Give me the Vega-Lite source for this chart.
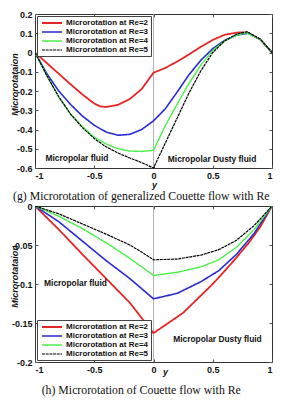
{
  "$schema": "https://vega.github.io/schema/vega-lite/v6.json",
  "background": "white",
  "padding": {"left": 9, "top": 9, "right": 4, "bottom": 4},
  "spacing": -3,
  "config": {
    "view": {"stroke": "#333", "strokeWidth": 1},
    "axis": {"labelFont": "Liberation Sans", "labelFontWeight": "bold", "labelFontSize": 9, "labelColor": "#111", "domain": false, "grid": false, "tickColor": "#555", "tickSize": -3, "labelPadding": 6, "titleFont": "Liberation Sans", "titleFontWeight": "bold", "titleFontStyle": "italic", "titleFontSize": 9, "titleColor": "#111"},
    "legend": {"labelFont": "Liberation Sans", "labelFontWeight": "bold", "labelFontSize": 8, "labelColor": "#111", "symbolType": "M-2.5,0H2.5", "symbolSize": 64, "symbolStrokeWidth": 1.3, "symbolOffset": 8, "labelOffset": 9, "padding": 2, "rowPadding": -1.2, "strokeColor": "#444", "fillColor": "white", "labelLimit": 300, "offset": 2},
    "title": {"font": "Liberation Serif", "fontSize": 11.8, "fontWeight": "normal", "color": "#111", "orient": "bottom", "anchor": "middle", "frame": "bounds"}
  },
  "datasets": {
    "g": [
      {"s": "Microrotation at Re=2", "x": -1, "v": 0}, {"s": "Microrotation at Re=2", "x": -0.9, "v": -0.055}, {"s": "Microrotation at Re=2", "x": -0.8, "v": -0.11}, {"s": "Microrotation at Re=2", "x": -0.7, "v": -0.165}, {"s": "Microrotation at Re=2", "x": -0.6, "v": -0.218}, {"s": "Microrotation at Re=2", "x": -0.5, "v": -0.265}, {"s": "Microrotation at Re=2", "x": -0.45, "v": -0.28}, {"s": "Microrotation at Re=2", "x": -0.4, "v": -0.283}, {"s": "Microrotation at Re=2", "x": -0.3, "v": -0.272}, {"s": "Microrotation at Re=2", "x": -0.2, "v": -0.242}, {"s": "Microrotation at Re=2", "x": -0.1, "v": -0.19}, {"s": "Microrotation at Re=2", "x": 0, "v": -0.105}, {"s": "Microrotation at Re=2", "x": 0.1, "v": -0.08}, {"s": "Microrotation at Re=2", "x": 0.2, "v": -0.047}, {"s": "Microrotation at Re=2", "x": 0.3, "v": -0.01}, {"s": "Microrotation at Re=2", "x": 0.4, "v": 0.03}, {"s": "Microrotation at Re=2", "x": 0.5, "v": 0.065}, {"s": "Microrotation at Re=2", "x": 0.6, "v": 0.092}, {"s": "Microrotation at Re=2", "x": 0.7, "v": 0.103}, {"s": "Microrotation at Re=2", "x": 0.75, "v": 0.105}, {"s": "Microrotation at Re=2", "x": 0.8, "v": 0.101}, {"s": "Microrotation at Re=2", "x": 0.9, "v": 0.068}, {"s": "Microrotation at Re=2", "x": 1, "v": 0},
      {"s": "Microrotation at Re=3", "x": -1, "v": 0}, {"s": "Microrotation at Re=3", "x": -0.9, "v": -0.11}, {"s": "Microrotation at Re=3", "x": -0.8, "v": -0.2}, {"s": "Microrotation at Re=3", "x": -0.7, "v": -0.27}, {"s": "Microrotation at Re=3", "x": -0.6, "v": -0.33}, {"s": "Microrotation at Re=3", "x": -0.5, "v": -0.378}, {"s": "Microrotation at Re=3", "x": -0.4, "v": -0.413}, {"s": "Microrotation at Re=3", "x": -0.3, "v": -0.43}, {"s": "Microrotation at Re=3", "x": -0.2, "v": -0.425}, {"s": "Microrotation at Re=3", "x": -0.1, "v": -0.4}, {"s": "Microrotation at Re=3", "x": 0, "v": -0.355}, {"s": "Microrotation at Re=3", "x": 0.1, "v": -0.292}, {"s": "Microrotation at Re=3", "x": 0.2, "v": -0.205}, {"s": "Microrotation at Re=3", "x": 0.3, "v": -0.115}, {"s": "Microrotation at Re=3", "x": 0.4, "v": -0.04}, {"s": "Microrotation at Re=3", "x": 0.5, "v": 0.02}, {"s": "Microrotation at Re=3", "x": 0.6, "v": 0.063}, {"s": "Microrotation at Re=3", "x": 0.7, "v": 0.09}, {"s": "Microrotation at Re=3", "x": 0.8, "v": 0.1}, {"s": "Microrotation at Re=3", "x": 0.9, "v": 0.068}, {"s": "Microrotation at Re=3", "x": 1, "v": 0},
      {"s": "Microrotation at Re=4", "x": -1, "v": 0}, {"s": "Microrotation at Re=4", "x": -0.9, "v": -0.12}, {"s": "Microrotation at Re=4", "x": -0.8, "v": -0.23}, {"s": "Microrotation at Re=4", "x": -0.7, "v": -0.32}, {"s": "Microrotation at Re=4", "x": -0.6, "v": -0.385}, {"s": "Microrotation at Re=4", "x": -0.5, "v": -0.44}, {"s": "Microrotation at Re=4", "x": -0.4, "v": -0.475}, {"s": "Microrotation at Re=4", "x": -0.3, "v": -0.5}, {"s": "Microrotation at Re=4", "x": -0.2, "v": -0.512}, {"s": "Microrotation at Re=4", "x": -0.1, "v": -0.514}, {"s": "Microrotation at Re=4", "x": 0, "v": -0.508}, {"s": "Microrotation at Re=4", "x": 0.1, "v": -0.38}, {"s": "Microrotation at Re=4", "x": 0.2, "v": -0.268}, {"s": "Microrotation at Re=4", "x": 0.3, "v": -0.16}, {"s": "Microrotation at Re=4", "x": 0.4, "v": -0.065}, {"s": "Microrotation at Re=4", "x": 0.5, "v": 0.01}, {"s": "Microrotation at Re=4", "x": 0.6, "v": 0.06}, {"s": "Microrotation at Re=4", "x": 0.7, "v": 0.09}, {"s": "Microrotation at Re=4", "x": 0.78, "v": 0.103}, {"s": "Microrotation at Re=4", "x": 0.9, "v": 0.068}, {"s": "Microrotation at Re=4", "x": 1, "v": 0},
      {"s": "Microrotation at Re=5", "x": -1, "v": 0}, {"s": "Microrotation at Re=5", "x": -0.9, "v": -0.12}, {"s": "Microrotation at Re=5", "x": -0.8, "v": -0.23}, {"s": "Microrotation at Re=5", "x": -0.7, "v": -0.32}, {"s": "Microrotation at Re=5", "x": -0.6, "v": -0.39}, {"s": "Microrotation at Re=5", "x": -0.5, "v": -0.447}, {"s": "Microrotation at Re=5", "x": -0.4, "v": -0.49}, {"s": "Microrotation at Re=5", "x": -0.3, "v": -0.522}, {"s": "Microrotation at Re=5", "x": -0.2, "v": -0.548}, {"s": "Microrotation at Re=5", "x": -0.1, "v": -0.572}, {"s": "Microrotation at Re=5", "x": 0, "v": -0.6}, {"s": "Microrotation at Re=5", "x": 0.1, "v": -0.47}, {"s": "Microrotation at Re=5", "x": 0.2, "v": -0.34}, {"s": "Microrotation at Re=5", "x": 0.3, "v": -0.21}, {"s": "Microrotation at Re=5", "x": 0.4, "v": -0.095}, {"s": "Microrotation at Re=5", "x": 0.5, "v": 0}, {"s": "Microrotation at Re=5", "x": 0.6, "v": 0.06}, {"s": "Microrotation at Re=5", "x": 0.7, "v": 0.095}, {"s": "Microrotation at Re=5", "x": 0.79, "v": 0.108}, {"s": "Microrotation at Re=5", "x": 0.9, "v": 0.07}, {"s": "Microrotation at Re=5", "x": 1, "v": 0}
    ],
    "h": [
      {"s": "Microrotation at Re=2", "x": -1, "v": 0}, {"s": "Microrotation at Re=2", "x": -0.8, "v": -0.03}, {"s": "Microrotation at Re=2", "x": -0.6, "v": -0.062}, {"s": "Microrotation at Re=2", "x": -0.4, "v": -0.093}, {"s": "Microrotation at Re=2", "x": -0.2, "v": -0.124}, {"s": "Microrotation at Re=2", "x": 0, "v": -0.163}, {"s": "Microrotation at Re=2", "x": 0.25, "v": -0.137}, {"s": "Microrotation at Re=2", "x": 0.5, "v": -0.1}, {"s": "Microrotation at Re=2", "x": 0.65, "v": -0.075}, {"s": "Microrotation at Re=2", "x": 0.8, "v": -0.048}, {"s": "Microrotation at Re=2", "x": 0.9, "v": -0.027}, {"s": "Microrotation at Re=2", "x": 1, "v": 0},
      {"s": "Microrotation at Re=3", "x": -1, "v": 0}, {"s": "Microrotation at Re=3", "x": -0.8, "v": -0.02}, {"s": "Microrotation at Re=3", "x": -0.6, "v": -0.045}, {"s": "Microrotation at Re=3", "x": -0.4, "v": -0.07}, {"s": "Microrotation at Re=3", "x": -0.2, "v": -0.093}, {"s": "Microrotation at Re=3", "x": 0, "v": -0.119}, {"s": "Microrotation at Re=3", "x": 0.2, "v": -0.112}, {"s": "Microrotation at Re=3", "x": 0.4, "v": -0.097}, {"s": "Microrotation at Re=3", "x": 0.55, "v": -0.083}, {"s": "Microrotation at Re=3", "x": 0.7, "v": -0.062}, {"s": "Microrotation at Re=3", "x": 0.85, "v": -0.035}, {"s": "Microrotation at Re=3", "x": 1, "v": 0},
      {"s": "Microrotation at Re=4", "x": -1, "v": 0}, {"s": "Microrotation at Re=4", "x": -0.8, "v": -0.013}, {"s": "Microrotation at Re=4", "x": -0.6, "v": -0.029}, {"s": "Microrotation at Re=4", "x": -0.4, "v": -0.047}, {"s": "Microrotation at Re=4", "x": -0.2, "v": -0.067}, {"s": "Microrotation at Re=4", "x": 0, "v": -0.089}, {"s": "Microrotation at Re=4", "x": 0.2, "v": -0.085}, {"s": "Microrotation at Re=4", "x": 0.4, "v": -0.078}, {"s": "Microrotation at Re=4", "x": 0.55, "v": -0.069}, {"s": "Microrotation at Re=4", "x": 0.7, "v": -0.053}, {"s": "Microrotation at Re=4", "x": 0.85, "v": -0.03}, {"s": "Microrotation at Re=4", "x": 1, "v": 0},
      {"s": "Microrotation at Re=5", "x": -1, "v": 0}, {"s": "Microrotation at Re=5", "x": -0.8, "v": -0.01}, {"s": "Microrotation at Re=5", "x": -0.6, "v": -0.023}, {"s": "Microrotation at Re=5", "x": -0.4, "v": -0.036}, {"s": "Microrotation at Re=5", "x": -0.2, "v": -0.05}, {"s": "Microrotation at Re=5", "x": -0.1, "v": -0.059}, {"s": "Microrotation at Re=5", "x": 0, "v": -0.069}, {"s": "Microrotation at Re=5", "x": 0.2, "v": -0.068}, {"s": "Microrotation at Re=5", "x": 0.4, "v": -0.063}, {"s": "Microrotation at Re=5", "x": 0.55, "v": -0.056}, {"s": "Microrotation at Re=5", "x": 0.7, "v": -0.044}, {"s": "Microrotation at Re=5", "x": 0.85, "v": -0.025}, {"s": "Microrotation at Re=5", "x": 1, "v": 0}
    ],
    "ag": [
      {"label": "Micropolar fluid", "x": -0.646, "v": -0.548},
      {"label": "Micropolar Dusty fluid", "x": 0.494, "v": -0.555}
    ],
    "ah": [
      {"label": "Micropolar fluid", "x": -0.658, "v": -0.099},
      {"label": "Micropolar Dusty fluid", "x": 0.54, "v": -0.17}
    ]
  },
  "resolve": {
    "scale": {"x": "independent", "y": "independent", "color": "independent", "strokeWidth": "independent", "strokeDash": "independent"},
    "legend": {"color": "independent"}
  },
  "vconcat": [
    {
      "width": 237,
      "height": 154,
      "title": {"text": "(g) Microrotation of generalized Couette flow with Re", "offset": 2},
      "resolve": {"axis": {"x": "independent", "y": "independent"}},
      "layer": [
        {
          "data": {"values": [{}]},
          "mark": {"type": "rule", "color": "#a0a0a0", "strokeWidth": 0.8},
          "encoding": {"x": {"datum": 0, "type": "quantitative", "axis": null}}
        },
        {
          "data": {"name": "g"},
          "mark": {"type": "line", "clip": true},
          "encoding": {
            "x": {"field": "x", "type": "quantitative", "scale": {"domain": [-1, 1], "nice": false},
                  "axis": {"orient": "bottom", "values": [-1, -0.5, 0, 0.5, 1], "labelExpr": "'' + round(datum.value*100)/100", "title": "y", "titleX": 119, "titleY": 16, "titleBaseline": "middle", "titleAnchor": null}},
            "y": {"field": "v", "type": "quantitative", "scale": {"domain": [-0.6, 0.2], "nice": false, "zero": false},
                  "axis": {"orient": "left", "values": [-0.6, -0.5, -0.4, -0.3, -0.2, -0.1, 0, 0.1, 0.2], "labelExpr": "'' + round(datum.value*100)/100", "title": "Microrotataion", "titleX": -21, "titleY": 70, "titleBaseline": "middle", "titleAnchor": null}},
            "color": {"field": "s", "type": "nominal",
                      "scale": {"domain": ["Microrotation at Re=2", "Microrotation at Re=3", "Microrotation at Re=4", "Microrotation at Re=5"], "range": ["#e52626", "#2a2ad0", "#4cf04c", "#000000"]},
                      "legend": {"orient": "top-left", "title": null}},
            "strokeWidth": {"field": "s", "type": "nominal", "scale": {"domain": ["Microrotation at Re=2", "Microrotation at Re=3", "Microrotation at Re=4", "Microrotation at Re=5"], "range": [1.8, 1.2, 4, 3]}, "legend": null},
            "strokeDash": {"field": "s", "type": "nominal", "scale": {"domain": ["Microrotation at Re=2", "Microrotation at Re=3", "Microrotation at Re=4", "Microrotation at Re=5"], "range": [[1, 0], [1, 0], [1, 0], [3, 0.7]]}, "legend": null}
          }
        },
        {
          "data": {"name": "ag"},
          "mark": {"type": "text", "font": "Liberation Sans", "fontWeight": "bold", "fontSize": 8.4, "color": "#111"},
          "encoding": {
            "x": {"field": "x", "type": "quantitative", "axis": {"orient": "top", "values": [-1, -0.5, 0, 0.5, 1], "labels": false, "title": null}},
            "y": {"field": "v", "type": "quantitative", "axis": {"orient": "right", "values": [-0.6, -0.5, -0.4, -0.3, -0.2, -0.1, 0, 0.1, 0.2], "labels": false, "title": null}},
            "text": {"field": "label"}
          }
        }
      ]
    },
    {
      "width": 237,
      "height": 156,
      "title": {"text": "(h) Microrotation of Couette flow with Re", "offset": 9},
      "resolve": {"axis": {"x": "independent", "y": "independent"}},
      "layer": [
        {
          "data": {"values": [{}]},
          "mark": {"type": "rule", "color": "#a0a0a0", "strokeWidth": 0.8},
          "encoding": {"x": {"datum": 0, "type": "quantitative", "axis": null}}
        },
        {
          "data": {"name": "h"},
          "mark": {"type": "line", "clip": true},
          "encoding": {
            "x": {"field": "x", "type": "quantitative", "scale": {"domain": [-1, 1], "nice": false},
                  "axis": {"orient": "bottom", "values": [-1, -0.5, 0, 0.5, 1], "labelExpr": "'' + round(datum.value*100)/100", "title": "y", "titleX": 130, "titleY": 9, "titleBaseline": "middle", "titleAnchor": null}},
            "y": {"field": "v", "type": "quantitative", "scale": {"domain": [-0.2, 0], "nice": false, "zero": false},
                  "axis": {"orient": "left", "values": [-0.2, -0.15, -0.1, -0.05, 0], "labelExpr": "'' + round(datum.value*100)/100", "title": "Microrotataion", "titleX": -21, "titleY": 70, "titleBaseline": "middle", "titleAnchor": null}},
            "color": {"field": "s", "type": "nominal",
                      "scale": {"domain": ["Microrotation at Re=2", "Microrotation at Re=3", "Microrotation at Re=4", "Microrotation at Re=5"], "range": ["#e52626", "#2a2ad0", "#4cf04c", "#000000"]},
                      "legend": {"orient": "bottom-left", "title": null}},
            "strokeWidth": {"field": "s", "type": "nominal", "scale": {"domain": ["Microrotation at Re=2", "Microrotation at Re=3", "Microrotation at Re=4", "Microrotation at Re=5"], "range": [1.8, 1.2, 4, 3]}, "legend": null},
            "strokeDash": {"field": "s", "type": "nominal", "scale": {"domain": ["Microrotation at Re=2", "Microrotation at Re=3", "Microrotation at Re=4", "Microrotation at Re=5"], "range": [[1, 0], [1, 0], [1, 0], [3, 0.7]]}, "legend": null}
          }
        },
        {
          "data": {"name": "ah"},
          "mark": {"type": "text", "font": "Liberation Sans", "fontWeight": "bold", "fontSize": 8.4, "color": "#111"},
          "encoding": {
            "x": {"field": "x", "type": "quantitative", "axis": {"orient": "top", "values": [-1, -0.5, 0, 0.5, 1], "labels": false, "title": null}},
            "y": {"field": "v", "type": "quantitative", "axis": {"orient": "right", "values": [-0.2, -0.15, -0.1, -0.05, 0], "labels": false, "title": null}},
            "text": {"field": "label"}
          }
        }
      ]
    }
  ]
}
